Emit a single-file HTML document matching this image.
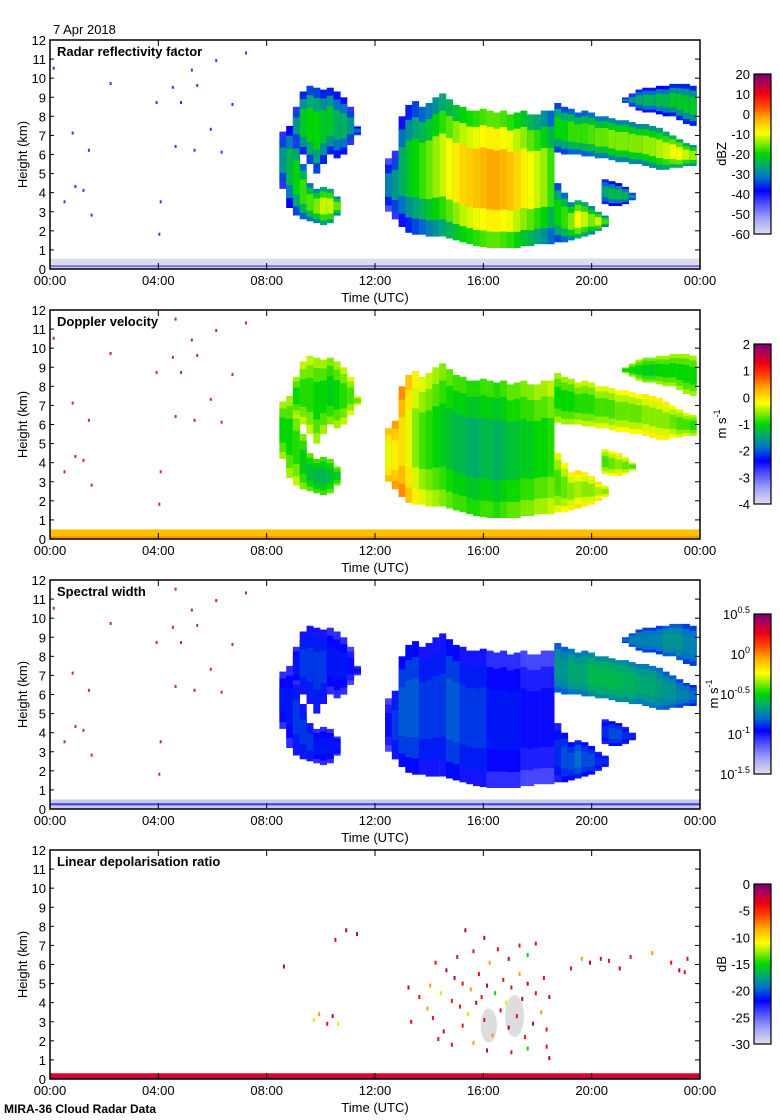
<!DOCTYPE html>
<html><head><meta charset="utf-8"><style>
html,body{margin:0;padding:0;background:#fff;}
svg{display:block;font-family:"Liberation Sans",sans-serif;}
</style></head><body>
<svg id="fig" width="780" height="1120" viewBox="0 0 780 1120" xmlns="http://www.w3.org/2000/svg">
<text x="53" y="34" font-size="13">7 Apr 2018</text>
<text x="4" y="1113" font-size="12" font-weight="bold">MIRA-36 Cloud Radar Data</text>
</svg>
<script>
// ---------- data ----------
const panelTitles = ["Radar reflectivity factor","Doppler velocity","Spectral width","Linear depolarisation ratio"];
const xTickLabels = ["00:00","04:00","08:00","12:00","16:00","20:00","00:00"];
const yTickLabels = ["0","1","2","3","4","5","6","7","8","9","10","11","12"];
const cbLabels1 = ["20","10","0","-10","-20","-30","-40","-50","-60"];
const cbLabels2 = ["2","1","0","-1","-2","-3","-4"];
const cbLabels3 = ["0.5","0","-0.5","-1","-1.5"];
const cbLabels4 = ["0","-5","-10","-15","-20","-25","-30"];

// cloud layers: column times (h), base/top (km), per-panel values
const l1T=[8.6,8.85,9.1,9.35,9.6,9.85,10.1,10.35,10.6];
const l1Base=[4.2,3.2,2.8,2.6,2.5,2.4,2.3,2.4,2.8];
const l1Top=[7.2,7.5,6.8,5.5,4.5,4.2,4.3,4.2,3.8];
const l1Refl=[-28,-24,-20,-18,-17,-15,-12,-12,-16];
const l1Vel=[-1.0,-1.0,-0.9,-1.1,-1.2,-1.3,-1.3,-1.2,-1.1];
const l1Wid=[-0.93,-0.93,-0.88,-0.88,-0.88,-0.93,-0.93,-0.93,-0.93];

const l2T=[9.1,9.35,9.6,9.85,10.1,10.35,10.6,10.85,11.1,11.35];
const l2Base=[6.5,6.0,5.5,5.0,5.5,6.0,5.8,6.0,6.5,7.0];
const l2Top=[8.5,9.3,9.6,9.5,9.4,9.5,9.3,9.0,8.5,7.5];
const l2Refl=[-28,-22,-20,-20,-22,-22,-25,-25,-28,-32];
const l2Vel=[-1.0,-0.9,-0.9,-1.0,-1.0,-1.1,-1.0,-0.9,-0.8,-0.7];
const l2Wid=[-0.93,-0.88,-0.88,-0.88,-0.88,-0.93,-0.93,-0.93,-0.98,-0.98];

const l3T=[12.5,12.75,13,13.25,13.5,13.75,14,14.25,14.5,14.75,15,15.25,15.5,15.75,16,16.25,16.5,16.75,17,17.25,17.5,17.75,18,18.25,18.5];
const l3Base=[3.0,2.6,2.2,1.9,1.8,1.8,1.7,1.7,1.7,1.6,1.5,1.4,1.3,1.2,1.15,1.1,1.1,1.1,1.1,1.1,1.2,1.2,1.3,1.3,1.3];
const l3Top=[5.8,6.2,8.0,8.6,8.8,8.5,8.7,9.0,9.2,8.9,8.6,8.5,8.3,8.3,8.4,8.3,8.2,8.3,8.1,8.2,8.3,8.1,8.1,8.3,8.3];
const l3Refl=[-30,-28,-25,-22,-20,-18,-16,-14,-12,-10,-8,-6,-5,-4,-3,-2,-2,-3,-4,-6,-8,-10,-12,-14,-18];
const l3Vel=[-0.3,-0.1,0.0,-0.3,-0.6,-0.8,-0.9,-1.0,-1.1,-1.2,-1.3,-1.3,-1.4,-1.4,-1.3,-1.3,-1.4,-1.3,-1.2,-1.2,-1.1,-1.1,-1.0,-1.0,-0.9];
const l3Wid=[-0.98,-0.88,-0.83,-0.83,-0.83,-0.88,-0.88,-0.88,-0.88,-0.83,-0.83,-0.88,-0.88,-0.88,-0.88,-0.93,-0.93,-0.93,-0.93,-0.93,-0.98,-0.98,-0.98,-0.98,-0.98];

const l4T=[18.75,19,19.25,19.5,19.75,20,20.25,20.5,20.75,21,21.25,21.5,21.75,22,22.25,22.5,22.75,23,23.25,23.5,23.75];
const l4Base=[6.1,6.0,6.0,6.0,5.9,5.9,5.8,5.8,5.7,5.6,5.6,5.5,5.5,5.4,5.3,5.2,5.2,5.3,5.3,5.4,5.4];
const l4Top=[8.7,8.5,8.4,8.2,8.3,8.2,8.0,8.0,7.9,7.8,7.8,7.7,7.6,7.6,7.5,7.4,7.2,7.0,6.8,6.6,6.5];
const l4Refl=[-20,-20,-18,-18,-18,-17,-16,-16,-15,-15,-15,-15,-15,-14,-14,-13,-12,-10,-10,-12,-14];
const l4Vel=[-1.0,-1.0,-1.0,-0.9,-0.9,-0.9,-0.8,-0.8,-0.8,-0.7,-0.7,-0.7,-0.7,-0.6,-0.6,-0.6,-0.6,-0.7,-0.8,-0.8,-0.9];
const l4Wid=[-0.7,-0.7,-0.65,-0.65,-0.65,-0.6,-0.6,-0.6,-0.6,-0.6,-0.62,-0.62,-0.65,-0.65,-0.65,-0.68,-0.7,-0.7,-0.75,-0.75,-0.8];

const l5T=[21.25,21.5,21.75,22,22.25,22.5,22.75,23,23.25,23.5,23.75];
const l5Base=[8.7,8.5,8.3,8.2,8.2,8.1,8.0,8.0,7.8,7.6,7.5];
const l5Top=[9.0,9.2,9.4,9.5,9.5,9.6,9.6,9.7,9.7,9.7,9.6];
const l5Refl=[-30,-28,-26,-25,-25,-24,-24,-22,-22,-22,-22];
const l5Vel=[-1.0,-1.0,-1.0,-1.1,-1.1,-1.0,-1.0,-1.0,-1.0,-1.0,-1.0];
const l5Wid=[-0.8,-0.75,-0.75,-0.75,-0.75,-0.75,-0.7,-0.7,-0.7,-0.75,-0.75];

const l6T=[20.5,20.75,21,21.25,21.5];
const l6Base=[3.4,3.3,3.3,3.4,3.6];
const l6Top=[4.7,4.6,4.5,4.3,4.0];
const l6Refl=[-26,-24,-24,-25,-28];
const l6Vel=[-0.8,-0.7,-0.6,-0.7,-0.8];
const l6Wid=[-0.9,-0.85,-0.85,-0.9,-0.9];

const l7T=[18.75,19,19.25,19.5,19.75,20,20.25,20.5];
const l7Base=[1.4,1.4,1.5,1.6,1.7,1.8,2.0,2.2];
const l7Top=[4.5,4.0,3.5,3.6,3.5,3.3,3.0,2.8];
const l7Refl=[-20,-18,-15,-10,-12,-15,-12,-18];
const l7Vel=[-0.8,-0.7,-0.6,-0.5,-0.6,-0.6,-0.5,-0.6];
const l7Wid=[-0.9,-0.85,-0.85,-0.8,-0.85,-0.85,-0.9,-0.9];

// sparse noise pixels (time h, height km)
const dotT=[0.1,0.5,0.8,1.2,1.4,0.9,1.5,2.2,4.0,4.05,4.5,4.6,4.6,5.2,5.4,5.3,6.1,5.9,6.3,3.9,4.8,6.7,7.2];
const dotH=[10.6,3.6,7.2,4.2,6.3,4.4,2.9,9.8,1.9,3.6,9.6,11.6,6.5,10.5,9.7,6.3,11.0,7.4,6.2,8.8,8.8,8.7,11.4];

// LDR scatter
const ldrT=[15.0,15.3,15.6,16.0,16.2,16.5,16.9,17.3,17.6,17.9,14.2,14.6,14.0,13.6,13.2,13.3,14.4,14.8,14.9,15.2,15.5,15.8,16.1,16.4,16.7,17.0,17.3,17.6,17.9,18.2,18.4,15.1,15.4,15.7,16.0,16.3,16.6,16.9,17.2,17.5,17.8,18.1,18.3,14.1,14.5,14.8,15.2,15.6,16.1,17.0,17.6,18.3,18.4,14.3,13.9,15.9,16.8,17.4,19.2,19.6,19.9,20.3,20.6,21.0,21.4,22.2,22.9,23.2,23.4,23.5,9.7,9.9,10.2,10.4,10.6,10.9,10.5,11.3,8.6];
const ldrH=[6.5,7.9,6.8,7.5,6.2,6.9,6.4,7.1,6.6,7.2,6.2,5.8,5.0,4.4,4.9,3.1,4.6,4.2,5.4,5.1,4.8,5.6,5.0,4.6,5.3,4.9,5.6,5.1,4.6,5.4,4.4,3.9,3.5,4.1,3.2,2.4,3.7,2.8,3.4,2.3,3.0,3.6,2.7,3.3,2.6,1.9,2.9,2.0,1.6,1.5,1.7,1.8,1.2,2.2,3.8,4.4,4.1,4.3,5.9,6.4,6.2,6.4,6.3,5.9,6.5,6.7,6.2,5.8,5.7,6.4,3.2,3.5,3.0,3.4,3.0,7.9,7.4,7.7,6.0];
const ldrV=[-4,-2,-4,-2,-8,-4,-2,-4,-15,-4,-4,-2,-8,-4,-2,-4,-12,-4,-2,-4,-8,-4,-2,-15,-4,-4,-8,-2,-4,-4,-2,-4,-12,-2,-4,-8,-4,-2,-4,-4,-2,-8,-4,-4,-2,-4,-4,-8,-2,-4,-15,-4,-2,-4,-8,-4,-12,-2,-4,-8,-2,-4,-4,-2,-4,-8,-4,-2,-4,-4,-12,-8,-4,-2,-10,-2,-4,-2,-2];
const grayT=[16.2,17.15];
const grayH=[2.8,3.3];
const grayRt=[0.3,0.35];
const grayRh=[0.9,1.1];

// ---------- drawing ----------
const svg=document.getElementById('fig');
const NS='http://www.w3.org/2000/svg';
const PX=50, PW=650, PH=229;
const panelTops=[40,310,580,850];
function mk(tag,attrs,parent){const e=document.createElementNS(NS,tag);for(const k in attrs)e.setAttribute(k,attrs[k]);(parent||svg).appendChild(e);return e;}
function xScale(t){return PX+t/24*PW;}
function yScale(top,h){return top+PH-h/12*PH;}

const stops=[[0,[222,222,238]],[0.1,[160,160,248]],[0.2,[70,70,255]],[0.27,[0,0,255]],[0.35,[0,110,205]],[0.42,[0,165,120]],[0.5,[0,215,0]],[0.58,[160,240,0]],[0.63,[255,255,0]],[0.72,[255,175,0]],[0.8,[255,70,0]],[0.88,[235,0,20]],[0.95,[170,0,90]],[1,[120,0,110]]];
function cmap(v){v=Math.max(0,Math.min(1,v));for(let i=1;i<stops.length;i++){if(v<=stops[i][0]){const a=stops[i-1],b=stops[i];const f=(v-a[0])/(b[0]-a[0]);const c=a[1].map((x,j)=>Math.round(x+(b[1][j]-x)*f));return `rgb(${c[0]},${c[1]},${c[2]})`;}}return 'rgb(120,0,110)';}

const norms=[v=>(v+60)/80, v=>(v+4)/6, v=>(v+1.5)/2, v=>(v+30)/30];
const edgeDelta=[[-0.18,-0.08],[0.08,0.04],[-0.06,-0.02]];
const layers=[[l1T,l1Base,l1Top,l1Refl,l1Vel,l1Wid],[l2T,l2Base,l2Top,l2Refl,l2Vel,l2Wid],[l3T,l3Base,l3Top,l3Refl,l3Vel,l3Wid],[l4T,l4Base,l4Top,l4Refl,l4Vel,l4Wid],[l5T,l5Base,l5Top,l5Refl,l5Vel,l5Wid],[l6T,l6Base,l6Top,l6Refl,l6Vel,l6Wid],[l7T,l7Base,l7Top,l7Refl,l7Vel,l7Wid]];

panelTops.forEach((top,p)=>{
  const g=mk('g',{});
  
  
  const clut=[['#dcdcec',0.55,'#7070f0',0.2],['#ffc000',0.5,'#ff9000',0.15],['#c8c8f0',0.5,'#3040ff',0.3],['#e00020',0.3,'#c00060',0.12]][p];
  const c1=mk('rect',{x:PX,y:yScale(top,clut[1]),width:PW,height:clut[1]/12*PH,fill:clut[0]},g);
  
  
  mk('rect',{x:PX,y:yScale(top,clut[3]),width:PW,height:2,fill:clut[2]},g);
  if(p<3){
    layers.forEach((L,li)=>{
      const [T,B,Tp]=L; const vals=L[3+p];
      for(let i=0;i<T.length;i++){
        const x0=xScale(T[i]-0.13), w=xScale(T[i]+0.13)-x0;
        const core=norms[p](vals[i]);
        const b=B[i], tp=Tp[i], th=tp-b;
        const tiers=[[b,tp,core+edgeDelta[p][0]],[b+th*0.12,tp-th*0.12,core+edgeDelta[p][1]],[b+th*0.28,tp-th*0.28,core]];
        tiers.forEach(([lo,hi,v])=>{
          const r=mk('rect',{x:x0.toFixed(1),y:yScale(top,hi).toFixed(1),width:w.toFixed(1),height:((hi-lo)/12*PH).toFixed(1),fill:cmap(v)},g);
          
          
        });
      }
    });
    const dotCol=['#2040ff','#c02080','#c02080'][p];
    for(let i=0;i<dotT.length;i++){
      const d=mk('rect',{x:xScale(dotT[i]),y:yScale(top,dotH[i]),width:2,height:3,fill:dotCol},g);
      
      
    }
  } else {
    for(let i=0;i<grayT.length;i++){
      const e=mk('ellipse',{cx:xScale(grayT[i]),cy:yScale(top,grayH[i]),rx:grayRt[i]/24*PW,ry:grayRh[i]/12*PH,fill:'#dddddd'},g);
      
      
    }
    for(let i=0;i<ldrT.length;i++){
      const d=mk('rect',{x:xScale(ldrT[i]),y:yScale(top,ldrH[i]),width:2,height:4,fill:cmap(norms[3](ldrV[i]))},g);
      
      
    }
  }
  const fr=mk('rect',{x:PX,y:top,width:PW,height:PH,fill:'none',stroke:'#000','stroke-width':1.5},g);
  
  
  yTickLabels.forEach((lab,i)=>{
    const y=yScale(top,i);
    mk('line',{x1:PX+PW-5,x2:PX+PW,y1:y,y2:y,stroke:'#000'},g);
    mk('line',{x1:PX,x2:PX+4,y1:y,y2:y,stroke:'#000'},g);
    const t=mk('text',{x:46,y:y+5,'font-size':13,'text-anchor':'end'},g);t.textContent=lab;
    
    
  });
  xTickLabels.forEach((lab,i)=>{
    const x=xScale(i*4);
    mk('line',{x1:x,x2:x,y1:top+PH-6,y2:top+PH,stroke:'#000'},g);
    mk('line',{x1:x,x2:x,y1:top,y2:top+6,stroke:'#000'},g);
    const t=mk('text',{x:x,y:top+PH+16,'font-size':13,'text-anchor':'middle'},g);t.textContent=lab;
    
    
  });
  const xt=mk('text',{x:375,y:top+PH+33,'font-size':13,'text-anchor':'middle'},g);xt.textContent='Time (UTC)';
  
  
  const yt=mk('text',{x:0,y:0,'font-size':13,'text-anchor':'middle',transform:`translate(27,${top+PH/2}) rotate(-90)`},g);yt.textContent='Height (km)';
  
  
  const ti=mk('text',{x:57,y:top+16,'font-size':13,'font-weight':'bold'},g);ti.textContent=panelTitles[p];
  
  
  const cbTop=top+34, cbH=160, cbX=754, cbW=17;
  const cb=mk('g',{},g);
  
  
  for(let k=0;k<80;k++){mk('rect',{x:cbX,y:cbTop+k*2,width:cbW,height:2.2,fill:cmap(1-(k+0.5)/80)},cb);}
  mk('rect',{x:cbX,y:cbTop,width:cbW,height:cbH,fill:'none',stroke:'#000','stroke-width':1.2},cb);
  const labs=[cbLabels1,cbLabels2,cbLabels3,cbLabels4][p];
  labs.forEach((lab,i)=>{
    const y=cbTop+i*cbH/(labs.length-1);
    const t=mk('text',{x:750,y:y+5,'font-size':13,'text-anchor':'end'},cb);
    if(p===2){t.textContent='10';const s=mk('tspan',{dy:-6,'font-size':9},t);s.textContent=lab;}
    else t.textContent=lab;
    
    
  });
  const u=mk('text',{x:0,y:0,'font-size':13,'text-anchor':'middle',transform:`translate(${p===2?718:726},${cbTop+cbH/2}) rotate(-90)`},cb);
  if(p===0)u.textContent='dBZ';
  else if(p===3)u.textContent='dB';
  else {u.textContent='m s';const s=mk('tspan',{dy:-6,'font-size':9},u);s.textContent='-1';}
  
  
});
</script>
</body></html>
